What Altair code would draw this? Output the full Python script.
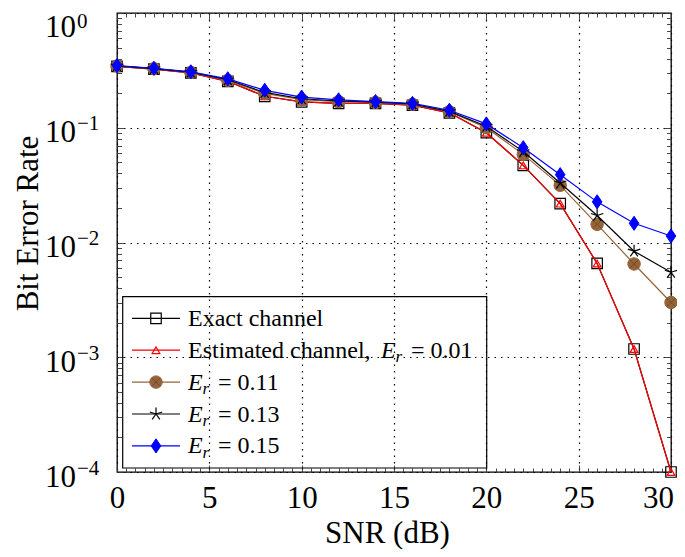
import altair as alt
import pandas as pd

# ---------------- data ----------------
snr = [0, 2, 4, 6, 8, 10, 12, 14, 16, 18, 20, 22, 24, 26, 28, 30]
ber_exact = [0.343, 0.324, 0.301, 0.254, 0.188, 0.168, 0.163, 0.163, 0.157, 0.135,
             0.0905, 0.047, 0.0218, 0.00657, 0.00118, 0.0001]
ber_est = [0.343, 0.324, 0.301, 0.254, 0.188, 0.168, 0.163, 0.163, 0.157, 0.135,
           0.0905, 0.047, 0.0218, 0.00657, 0.00118, 0.0001]
ber_011 = [0.345, 0.327, 0.304, 0.259, 0.199, 0.176, 0.169, 0.166, 0.160, 0.138,
           0.100, 0.0586, 0.0315, 0.0144, 0.0065, 0.0030]
ber_013 = [0.346, 0.328, 0.305, 0.262, 0.203, 0.179, 0.171, 0.167, 0.161, 0.139,
           0.103, 0.062, 0.033, 0.0172, 0.0084, 0.0055]
ber_015 = [0.348, 0.330, 0.307, 0.267, 0.212, 0.185, 0.175, 0.169, 0.163, 0.142,
           0.108, 0.067, 0.039, 0.0226, 0.0147, 0.0114]

series_names = ["Exact channel", "Estimated channel, E_r = 0.01",
                "E_r = 0.11", "E_r = 0.13", "E_r = 0.15"]
series_values = [ber_exact, ber_est, ber_011, ber_013, ber_015]

x_major = [0, 5, 10, 15, 20, 25, 30]
y_major = [1, 0.1, 0.01, 0.001, 0.0001]
y_exponents = ["0", "\u22121", "\u22122", "\u22123", "\u22124"]

# ---------------- styling ----------------
W, H = 554, 459
FONT = "Liberation Serif"
BROWN = "#94633A"
STAR = ("M0,0L0,-1M0,0L0.951,-0.309M0,0L0.588,0.809"
        "M0,0L-0.588,0.809M0,0L-0.951,-0.309")
DIAMOND = "M0,-1L0.68,0L0,1L-0.68,0Z"
XCROSS = "M-0.7,-0.7L0.7,0.7M-0.7,0.7L0.7,-0.7"

styles = [
    dict(line="black", shape="square", size=110, fill="transparent", stroke="black", sw=1.2),
    dict(line="red", shape="triangle-up", size=60, fill="transparent", stroke="red", sw=1.2),
    dict(line=BROWN, shape="circle", size=155, fill=BROWN, stroke=BROWN, sw=1.0),
    dict(line="black", shape=STAR, size=170, fill="transparent", stroke="black", sw=1.2),
    dict(line="blue", shape=DIAMOND, size=200, fill="blue", stroke="blue", sw=1.0),
]

xscale = alt.Scale(domain=[0, 30], nice=False, zero=False)
yscale = alt.Scale(type="log", domain=[0.0001, 1], nice=False)

x_minor = [i / 2 for i in range(0, 61)]
y_minor = [m * 10.0 ** e for e in range(-4, 0) for m in range(1, 10)] + [1]

x_tick_size = {"condition": {"test": "datum.value % 5 === 0", "value": 7}, "value": 4}
y_tick_size = {"condition": {"test": "abs(log(datum.value)/LN10 - round(log(datum.value)/LN10)) < 0.001",
                             "value": 7}, "value": 4.5}

main_x_axis = alt.Axis(values=x_major, title="SNR (dB)", grid=True, gridDash=[1.5, 5],
                       gridColor="black", gridOpacity=1, gridWidth=1.2, domain=False,
                       ticks=False, tickSize=0, labelFont=FONT, labelFontSize=31,
                       labelColor="black", labelBaseline="alphabetic", labelPadding=35,
                       labelOffset={"condition": {"test": "datum.value == 30", "value": -13},
                                    "value": 0},
                       labelFlush=False, labelOverlap=False, titleFont=FONT,
                       titleFontSize=31, titleFontWeight="normal", titleColor="black",
                       titleX=270, titleY=70, titleBaseline="alphabetic", titleAlign="center",
                       orient="bottom")
main_y_axis = alt.Axis(values=y_major, title="Bit Error Rate", grid=True, gridDash=[1.5, 5],
                       gridColor="black", gridOpacity=1, gridWidth=1.2, domain=False,
                       ticks=False, tickSize=0, labels=False,
                       titleFont=FONT, titleFontSize=31, titleFontWeight="normal",
                       titleColor="black", titleX=-80, titleY=210, titleAngle=270,
                       titleBaseline="alphabetic", titleAlign="center", orient="left")


def tick_axis(orient, offset, values, size):
    return alt.Axis(orient=orient, offset=offset, values=values, tickSize=size,
                    labels=False, domain=False, grid=False, title="",
                    tickColor="#333333", tickWidth=0.9)


layers = []
for i, (name, vals) in enumerate(zip(series_names, series_values)):
    st = styles[i]
    df = pd.DataFrame({"snr": snr, "ber": vals, "series": name})
    if i == 0:
        xa, ya = main_x_axis, main_y_axis
    elif i == 1:
        xa = tick_axis("top", -H, x_minor, x_tick_size)
        ya = tick_axis("right", -W, y_minor, y_tick_size)
    elif i == 2:
        xa = tick_axis("bottom", -H, x_minor, x_tick_size)
        ya = tick_axis("left", -W, y_minor, y_tick_size)
    else:
        xa, ya = None, None
    line = alt.Chart(df).mark_line(color=st["line"], strokeWidth=1.2).encode(
        x=alt.X("snr:Q", scale=xscale, axis=xa),
        y=alt.Y("ber:Q", scale=yscale, axis=ya),
    )
    pts = alt.Chart(df).mark_point(shape=st["shape"], size=st["size"], fill=st["fill"],
                                   stroke=st["stroke"], strokeWidth=st["sw"], opacity=1,
                                   fillOpacity=1).encode(
        x=alt.X("snr:Q", scale=xscale, axis=None),
        y=alt.Y("ber:Q", scale=yscale, axis=None),
    )
    layers += [line, pts]
    if i == 2:
        cross = alt.Chart(df).mark_point(shape=XCROSS, size=155, stroke="#6B4526",
                                         strokeWidth=0.8, opacity=1).encode(
            x=alt.X("snr:Q", scale=xscale, axis=None),
            y=alt.Y("ber:Q", scale=yscale, axis=None),
        )
        layers.append(cross)

# ---------------- y tick labels: 10 with a superscript exponent ----------------
ylab_df = pd.DataFrame({"v": y_major, "exp": y_exponents})
for is_top, lift_base, lift_exp in [(False, 0, 0), (True, 9, 12)]:
    test = "datum.v == 1" if is_top else "datum.v != 1"
    base_lab = alt.Chart(ylab_df).transform_filter(test)
    layers.append(base_lab.mark_text(text="10", font=FONT, fontSize=31, align="right",
                                     baseline="alphabetic", dy=14.5 + lift_base,
                                     color="black").encode(
        x=alt.value(-41),
        y=alt.Y("v:Q", scale=yscale, axis=None)))
    layers.append(base_lab.mark_text(font=FONT, fontSize=21, align="left",
                                     baseline="alphabetic", dy=2.5 + lift_exp,
                                     color="black").encode(
        x=alt.value(-40),
        y=alt.Y("v:Q", scale=yscale, axis=None),
        text="exp:N"))

# ---------------- legend (drawn manually) ----------------
one = pd.DataFrame({"k": [0]})
LX0, LX1, LY0, LY1 = 5.7, 369.7, 283.7, 455
row_y = [305.3 + 31.9 * r for r in range(5)]
box = alt.Chart(one).mark_rect(fill="transparent", stroke="black", strokeWidth=1.2).encode(
    x=alt.value(LX0), x2=alt.value(LX1), y=alt.value(LY0), y2=alt.value(LY1))
layers.append(box)

for r, st in enumerate(styles):
    ly = row_y[r]
    layers.append(alt.Chart(one).mark_rule(color=st["line"], strokeWidth=1.2).encode(
        x=alt.value(15), x2=alt.value(63), y=alt.value(ly)))
    layers.append(alt.Chart(one).mark_point(shape=st["shape"], size=st["size"], fill=st["fill"],
                                            stroke=st["stroke"], strokeWidth=st["sw"],
                                            opacity=1, fillOpacity=1).encode(
        x=alt.value(39), y=alt.value(ly)))
    if r == 2:
        layers.append(alt.Chart(one).mark_point(shape=XCROSS, size=155, stroke="#6B4526",
                                                strokeWidth=0.8, opacity=1).encode(
            x=alt.value(39), y=alt.value(ly)))


def txt(s, x, y, size=24, style="normal"):
    return alt.Chart(one).mark_text(text=s, font=FONT, fontSize=size, fontStyle=style,
                                    align="left", baseline="alphabetic",
                                    color="black").encode(x=alt.value(x), y=alt.value(y))


legend_parts = [
    ("Exact channel", None, None),
    ("Estimated channel,", "0.01", 193),
    ("", "0.11", 0),
    ("", "0.13", 0),
    ("", "0.15", 0),
]
for r, (prefix, val, shift) in enumerate(legend_parts):
    ly = row_y[r] + 7.5
    tx = 71
    if prefix:
        layers.append(txt(prefix, tx, ly))
    if val is not None:
        ex = tx + shift
        layers.append(txt("E", ex, ly, style="italic"))
        layers.append(txt("r", ex + 14.5, ly + 4.5, size=17, style="italic"))
        layers.append(txt("= " + val, ex + 30, ly))

chart = alt.layer(*layers).resolve_axis(x="independent", y="independent").properties(
    width=W, height=H,
    autosize=alt.AutoSizeParams(type="none"),
    padding={"left": 109, "top": 5, "right": 6, "bottom": 77},
).configure_view(stroke="black", strokeWidth=1.3)

chart.save("out.html", embed_options={"renderer": "svg", "actions": False})
